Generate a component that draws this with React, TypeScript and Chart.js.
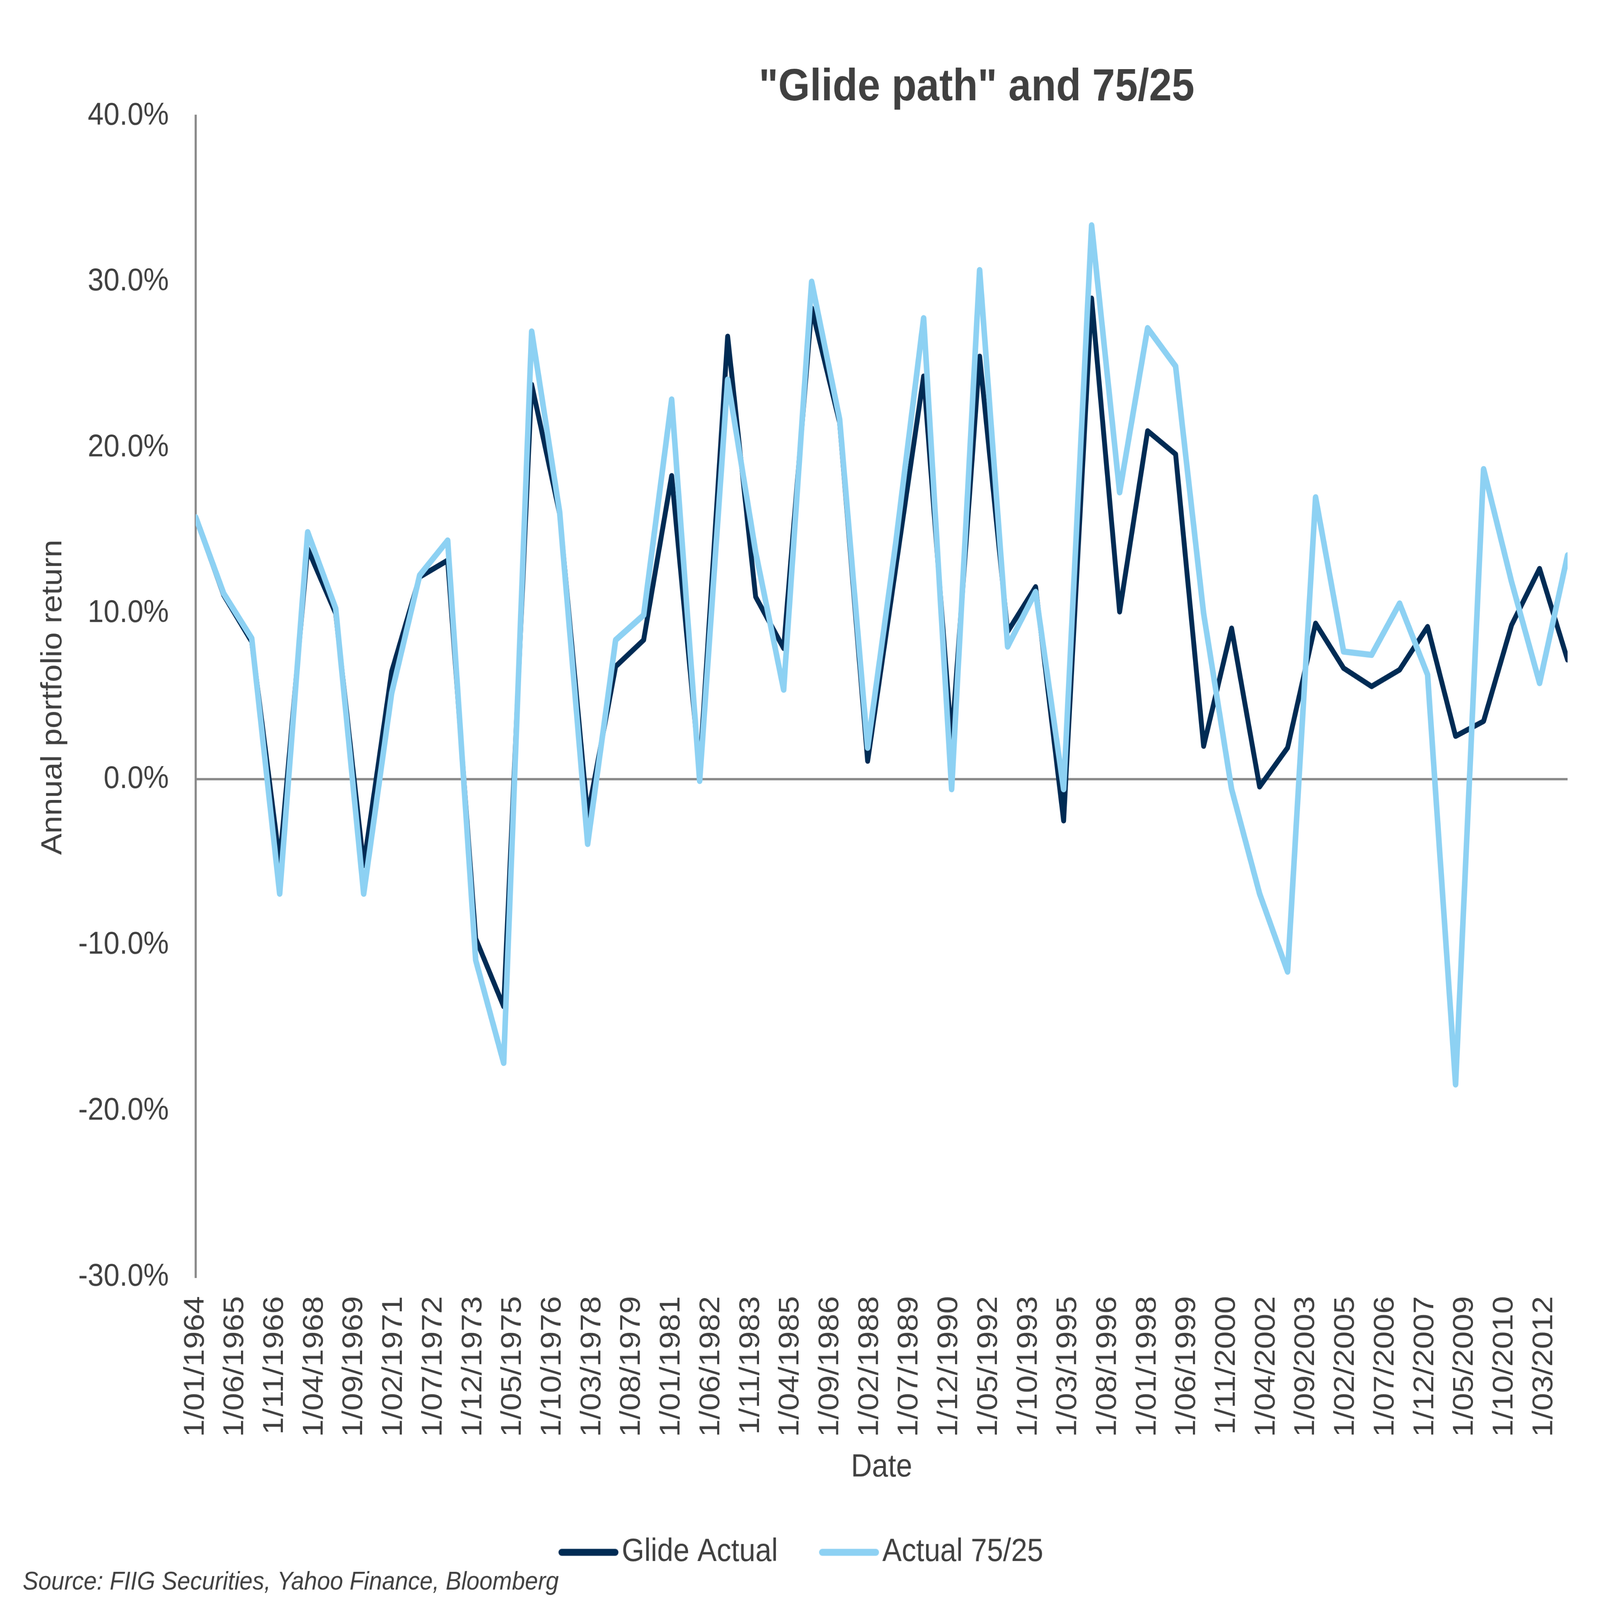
import React, { useEffect, useRef } from "react";
import { Chart, registerables } from "chart.js";

Chart.register(...registerables);

// ---- data ----
const years = [
  1964, 1965, 1966, 1967, 1968, 1969, 1970, 1971, 1972, 1973,
  1974, 1975, 1976, 1977, 1978, 1979, 1980, 1981, 1982, 1983,
  1984, 1985, 1986, 1987, 1988, 1989, 1990, 1991, 1992, 1993,
  1994, 1995, 1996, 1997, 1998, 1999, 2000, 2001, 2002, 2003,
  2004, 2005, 2006, 2007, 2008, 2009, 2010, 2011, 2012, 2013,
];

const glideActual = [
  15.8, 11.1, 8.3, -5.0, 13.9, 10.0, -5.2, 6.5, 12.2, 13.2,
  -9.6, -13.7, 23.8, 16.0, -2.2, 6.8, 8.4, 18.3, 0.5, 26.7,
  11.0, 7.9, 28.4, 21.5, 1.1, 12.7, 24.3, 2.3, 25.5, 8.9,
  11.6, -2.5, 29.0, 10.1, 21.0, 19.6, 2.0, 9.1, -0.45, 1.9,
  9.4, 6.7, 5.6, 6.6, 9.2, 2.6, 3.5, 9.3, 12.7, 7.2,
];

const actual7525 = [
  15.8, 11.2, 8.5, -6.9, 14.9, 10.3, -6.9, 5.2, 12.3, 14.4,
  -10.9, -17.1, 27.0, 16.1, -3.9, 8.4, 9.9, 22.9, -0.1, 24.1,
  13.7, 5.4, 30.0, 21.7, 1.9, 14.2, 27.8, -0.6, 30.7, 8.0,
  11.3, -0.6, 33.4, 17.3, 27.2, 24.9, 10.0, -0.6, -6.9, -11.6,
  17.0, 7.7, 7.5, 10.6, 6.3, -18.4, 18.7, 11.9, 5.8, 13.5,
];

const xTickLabels = [
  "1/01/1964", "1/06/1965", "1/11/1966", "1/04/1968", "1/09/1969",
  "1/02/1971", "1/07/1972", "1/12/1973", "1/05/1975", "1/10/1976",
  "1/03/1978", "1/08/1979", "1/01/1981", "1/06/1982", "1/11/1983",
  "1/04/1985", "1/09/1986", "1/02/1988", "1/07/1989", "1/12/1990",
  "1/05/1992", "1/10/1993", "1/03/1995", "1/08/1996", "1/01/1998",
  "1/06/1999", "1/11/2000", "1/04/2002", "1/09/2003", "1/02/2005",
  "1/07/2006", "1/12/2007", "1/05/2009", "1/10/2010", "1/03/2012",
];

const seriesNames = ["Glide Actual", "Actual 75/25"];
const chartTitle = '"Glide path" and 75/25';
const yAxisTitle = "Annual portfolio return";
const xAxisTitle = "Date";
const sourceNote = "Source: FIIG Securities, Yahoo Finance, Bloomberg";

// ---- styles (drawing surface is 4587 x 4144, stretched to fill the window) ----
const FONT = "'Liberation Sans', Arial, Helvetica, sans-serif";
const TEXT = "#404040";
const DARK = "#002B54";
const LIGHT = "#8DD1F3";
const AXIS = "#898989";
const TICK_MONTHS = 17;
const DW = 4587;
const DH = 4144;

function makeSample(color: string): HTMLCanvasElement {
  const c = document.createElement("canvas");
  c.width = 302;
  c.height = 20;
  const g = c.getContext("2d")!;
  g.strokeStyle = color;
  g.lineWidth = 18;
  g.lineCap = "round";
  g.beginPath();
  g.moveTo(139, 10);
  g.lineTo(293, 10);
  g.stroke();
  return c;
}

const textPlugin = {
  id: "extraText",
  afterDraw(chart: any) {
    const ctx = chart.ctx as CanvasRenderingContext2D;
    ctx.save();
    ctx.fillStyle = TEXT;
    ctx.font = `bold 117px ${FONT}`;
    ctx.textAlign = "center";
    ctx.textBaseline = "alphabetic";
    ctx.fillText(chartTitle, 2800, 260);
    ctx.restore();

    ctx.save();
    ctx.fillStyle = TEXT;
    ctx.font = `83px ${FONT}`;
    ctx.textAlign = "center";
    ctx.textBaseline = "middle";
    ctx.translate(153, 1806);
    ctx.rotate(-Math.PI / 2);
    ctx.fillText(yAxisTitle, 0, 0);
    ctx.restore();

    ctx.save();
    ctx.fillStyle = TEXT;
    ctx.font = `italic 67px ${FONT}`;
    ctx.textAlign = "left";
    ctx.textBaseline = "alphabetic";
    ctx.fillText(sourceNote, 65, 4117);
    ctx.restore();
  },
};

export default function App() {
  const ref = useRef<HTMLCanvasElement | null>(null);

  useEffect(() => {
    if (!ref.current) return;
    const samples = [makeSample(DARK), makeSample(LIGHT)];
    const x0 = years[0];
    const xMax = (years[years.length - 1] - x0) * 12;
    const toPts = (vals: number[]) =>
      years.map((yr, i) => ({ x: (yr - x0) * 12, y: vals[i] }));

    const chart = new Chart(ref.current, {
      type: "line",
      data: {
        datasets: [
          {
            label: seriesNames[0],
            data: toPts(glideActual),
            borderColor: DARK,
            backgroundColor: DARK,
            borderWidth: 14,
            pointRadius: 0,
            pointHoverRadius: 0,
            borderCapStyle: "round",
            borderJoinStyle: "round",
            tension: 0,
            order: 1,
          },
          {
            label: seriesNames[1],
            data: toPts(actual7525),
            borderColor: LIGHT,
            backgroundColor: LIGHT,
            borderWidth: 16,
            pointRadius: 0,
            pointHoverRadius: 0,
            borderCapStyle: "round",
            borderJoinStyle: "round",
            tension: 0,
            order: 0,
          },
        ],
      },
      options: {
        animation: false,
        responsive: false,
        devicePixelRatio: 1,
        events: [],
        layout: { padding: { top: 300, left: 0, right: 93, bottom: 72 } },
        plugins: {
          title: { display: false },
          tooltip: { enabled: false },
          legend: {
            display: true,
            position: "bottom",
            labels: {
              usePointStyle: true,
              pointStyleWidth: 238,
              padding: 20,
              color: TEXT,
              font: { family: FONT, size: 83 },
              sort: (a: any, b: any) => a.datasetIndex - b.datasetIndex,
              generateLabels: (c: any) => {
                const items = (Chart.defaults.plugins.legend.labels as any).generateLabels(c);
                return items.map((it: any) => ({ ...it, pointStyle: samples[it.datasetIndex] }));
              },
            },
          },
        },
        scales: {
          x: {
            type: "linear",
            min: 0,
            max: xMax,
            bounds: "data",
            grid: { display: false, drawTicks: false },
            border: { display: false },
            ticks: {
              stepSize: TICK_MONTHS,
              includeBounds: false,
              autoSkip: false,
              minRotation: 90,
              maxRotation: 90,
              padding: 50,
              color: TEXT,
              font: { family: FONT, size: 82 },
              callback: (v: any) => {
                const n = Number(v);
                const i = Math.round(n / TICK_MONTHS);
                return Math.abs(n - i * TICK_MONTHS) < 1e-6 ? xTickLabels[i] ?? "" : "";
              },
            },
            title: {
              display: true,
              text: xAxisTitle,
              color: TEXT,
              font: { family: FONT, size: 83 },
              padding: { top: 0, bottom: 108 },
            },
            afterFit: (s: any) => {
              s.height = 652;
              s.paddingLeft = 0;
              s.paddingRight = 0;
            },
          },
          y: {
            type: "linear",
            min: -30,
            max: 40,
            ticks: {
              stepSize: 10,
              padding: 77,
              color: TEXT,
              font: { family: FONT, size: 82 },
              callback: (v: any) => `${Number(v).toFixed(1)}%`,
            },
            grid: {
              drawTicks: false,
              color: (c: any) => (c.tick && c.tick.value === 0 ? AXIS : "rgba(0,0,0,0)"),
              lineWidth: 6,
            },
            border: { display: true, color: AXIS, width: 6 },
            afterFit: (s: any) => {
              s.width = 561;
            },
          },
        },
      } as any,
      plugins: [textPlugin],
    });

    return () => chart.destroy();
  }, []);

  return (
    <div
      style={{
        position: "fixed",
        left: 0,
        top: 0,
        width: "100vw",
        height: "100vh",
        background: "#ffffff",
        overflow: "hidden",
      }}
    >
      <canvas
        ref={ref}
        width={DW}
        height={DH}
        style={{ display: "block", width: "100vw", height: "100vh" }}
      />
    </div>
  );
}
